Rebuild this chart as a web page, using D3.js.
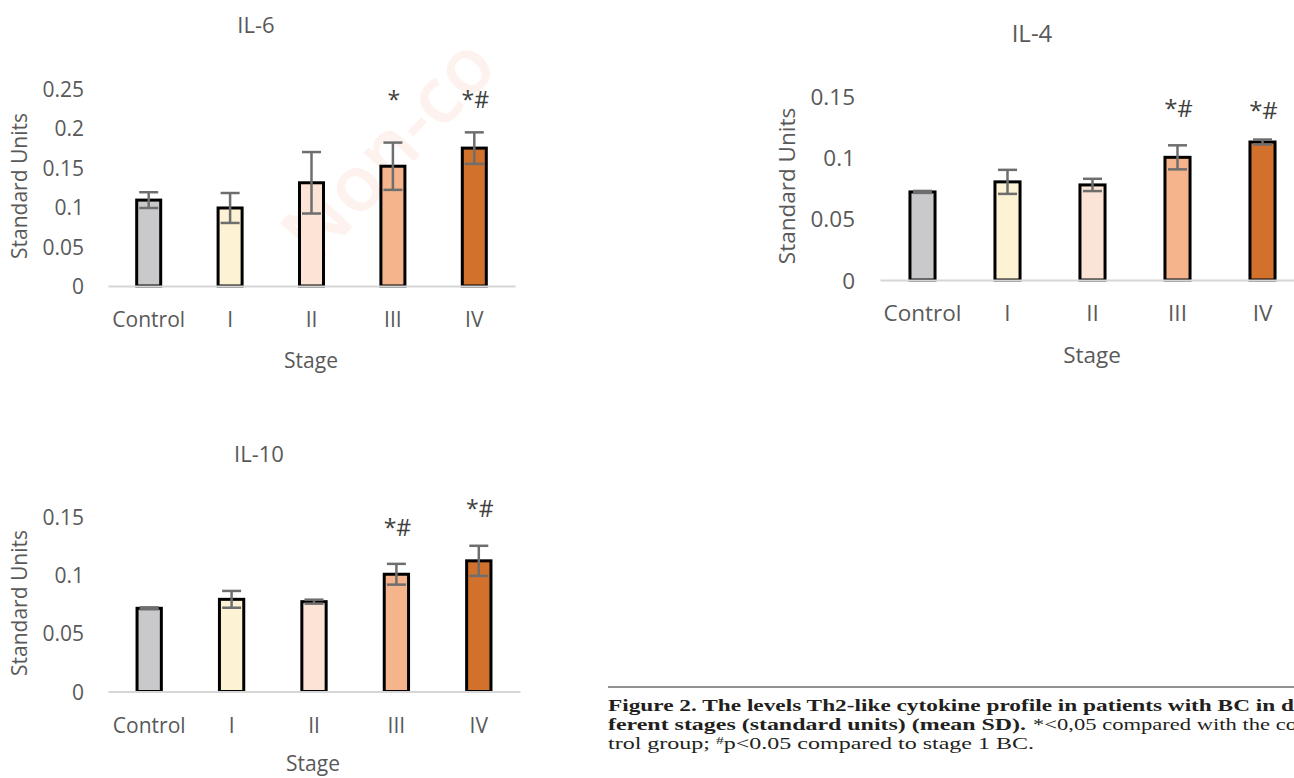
<!DOCTYPE html>
<html><head><meta charset="utf-8">
<script src="https://cdn.jsdelivr.net/npm/d3@7"></script>
<style>body{margin:0;background:#fff;} svg{display:block;}</style>
</head><body><svg id="c" width="1294" height="778"></svg>
<script>
// ---------- data ----------
const categories = ["Control", "I", "II", "III", "IV"];
const barColors = ["#c9c9cb", "#fdf2d3", "#fbe3d6", "#f5b48b", "#d1712b"];

const il6Means  = [0.109, 0.099, 0.131, 0.152, 0.175];
const il6Errors = [0.010, 0.019, 0.039, 0.030, 0.020];
const il6Marks  = ["", "", "", "*", "*#"];
const il6MarkLevels = [null, null, null, 0.226, 0.226];
const il6Ticks = [0, 0.05, 0.1, 0.15, 0.2, 0.25];
const il6TickLabels = ["0", "0.05", "0.1", "0.15", "0.2", "0.25"];

const il4Means  = [0.0718, 0.080, 0.0775, 0.100, 0.1125];
const il4Errors = [0.0008, 0.0098, 0.005, 0.0098, 0.002];
const il4Marks  = ["", "", "", "*#", "*#"];
const il4MarkLevels = [null, null, null, 0.133, 0.131];
const il4Ticks = [0, 0.05, 0.1, 0.15];
const il4TickLabels = ["0", "0.05", "0.1", "0.15"];

const il10Means  = [0.0713, 0.079, 0.077, 0.1005, 0.112];
const il10Errors = [0.0008, 0.0072, 0.0017, 0.0089, 0.0129];
const il10Marks  = ["", "", "", "*#", "*#"];
const il10MarkLevels = [null, null, null, 0.133, 0.1496];
const il10Ticks = [0, 0.05, 0.1, 0.15];
const il10TickLabels = ["0", "0.05", "0.1", "0.15"];

const yTitle = "Standard Units";
const xTitle = "Stage";
const watermarkText = "Non-co";

// ---------- drawing ----------
const svg = d3.select("#c");
const font = "'Open Sans', 'Noto Sans', sans-serif";
const textColor = "#595959";
svg.append("rect").attr("width", 1294).attr("height", 778).attr("fill", "#fff");

// watermark (behind)
svg.append("text")
  .attr("transform", "translate(316,266) rotate(-47)")
  .attr("font-family", font).attr("font-weight", 600).attr("font-size", 78)
  .attr("fill", "#fdf2ee")
  .text(watermarkText);

function drawChart(c) {
  const g = svg.append("g").attr("font-family", font);
  const x = d3.scaleBand().domain(categories).range(c.xRange)
    .paddingInner(0.705).paddingOuter(0.3525);
  const y = d3.scaleLinear().domain(c.yDomain).range(c.yRange);

  // title
  g.append("text").attr("x", c.titlePos[0]).attr("y", c.titlePos[1])
    .attr("text-anchor", "middle").attr("font-size", c.titleSize)
    .attr("fill", textColor).text(c.name);

  // y axis (labels only)
  const ya = g.append("g").attr("transform", `translate(${c.tickX},0)`)
    .call(d3.axisLeft(y).tickValues(c.ticks).tickSize(0).tickPadding(0)
      .tickFormat((d, i) => c.tickLabels[i]));
  ya.attr("font-family", font).attr("font-size", c.fs);
  ya.select(".domain").remove();
  ya.selectAll("text").attr("fill", textColor).attr("dy", "0.36em");

  // bars
  g.selectAll("rect.bar").data(c.means).join("rect").attr("class", "bar")
    .attr("x", (d, i) => x(categories[i]))
    .attr("y", d => y(d))
    .attr("width", x.bandwidth())
    .attr("height", d => y(0) - y(d))
    .attr("fill", (d, i) => barColors[i])
    .attr("stroke", "#000").attr("stroke-width", 3);

  // x axis (line + labels)
  const pad = c.xLabelBase - y(0) - 0.71 * c.fs;
  const xa = g.append("g").attr("transform", `translate(0,${y(0)})`)
    .call(d3.axisBottom(x).tickSize(0).tickSizeOuter(0).tickPadding(pad));
  xa.attr("font-family", font).attr("font-size", c.fs);
  xa.select(".domain").attr("stroke", "#d6d6d6").attr("stroke-width", 2);
  xa.selectAll("text").attr("fill", textColor);

  // error bars
  const cap = 9.5;
  const eb = g.append("g").attr("stroke", "#6e6e6e").attr("stroke-width", 2.5);
  c.means.forEach((m, i) => {
    const cx = x(categories[i]) + x.bandwidth() / 2;
    const e = c.errors[i];
    eb.append("line").attr("x1", cx).attr("x2", cx).attr("y1", y(m + e)).attr("y2", y(m - e));
    eb.append("line").attr("x1", cx - cap).attr("x2", cx + cap).attr("y1", y(m + e)).attr("y2", y(m + e));
    eb.append("line").attr("x1", cx - cap).attr("x2", cx + cap).attr("y1", y(m - e)).attr("y2", y(m - e));
  });

  // significance marks
  c.marks.forEach((t, i) => {
    if (!t) return;
    g.append("text")
      .attr("x", x(categories[i]) + x.bandwidth() / 2 + 1)
      .attr("y", y(c.markLevels[i]))
      .attr("text-anchor", "middle").attr("font-size", c.markSize)
      .attr("fill", "#404040").text(t);
  });

  // axis titles
  g.append("text").attr("x", c.stagePos[0]).attr("y", c.stagePos[1])
    .attr("text-anchor", "middle").attr("font-size", c.fs)
    .attr("fill", textColor).text(xTitle);
  g.append("text").attr("transform", `translate(${c.yTitlePos[0]},${c.yTitlePos[1]}) rotate(-90)`)
    .attr("text-anchor", "middle").attr("font-size", c.fs)
    .attr("fill", textColor).text(yTitle);
}

drawChart({
  name: "IL-6", means: il6Means, errors: il6Errors, marks: il6Marks, markLevels: il6MarkLevels,
  ticks: il6Ticks, tickLabels: il6TickLabels,
  xRange: [108, 515], yDomain: [0, 0.25], yRange: [286, 89],
  tickX: 84, titlePos: [256, 33], titleSize: 22, fs: 21, markSize: 23,
  xLabelBase: 327, stagePos: [311, 368], yTitlePos: [27, 186]
});
drawChart({
  name: "IL-4", means: il4Means, errors: il4Errors, marks: il4Marks, markLevels: il4MarkLevels,
  ticks: il4Ticks, tickLabels: il4TickLabels,
  xRange: [880, 1305], yDomain: [0, 0.15], yRange: [280, 96],
  tickX: 855, titlePos: [1032, 42], titleSize: 24, fs: 22.5, markSize: 24,
  xLabelBase: 321, stagePos: [1092, 363], yTitlePos: [795, 186]
});
drawChart({
  name: "IL-10", means: il10Means, errors: il10Errors, marks: il10Marks, markLevels: il10MarkLevels,
  ticks: il10Ticks, tickLabels: il10TickLabels,
  xRange: [108, 520], yDomain: [0, 0.15], yRange: [691.5, 516.5],
  tickX: 84, titlePos: [259, 462], titleSize: 22, fs: 21, markSize: 23,
  xLabelBase: 732.5, stagePos: [313, 771], yTitlePos: [27, 603]
});

// ---------- caption ----------
const cap = svg.append("g").attr("font-family", "'Liberation Serif', 'DejaVu Serif', serif")
  .attr("font-size", 17).attr("fill", "#231f20");
cap.append("line").attr("x1", 608).attr("x2", 1294).attr("y1", 687).attr("y2", 687)
  .attr("stroke", "#6e6e6e").attr("stroke-width", 1.5);
cap.append("text").attr("x", 608).attr("y", 711).attr("font-weight", "bold")
  .attr("textLength", 686).attr("lengthAdjust", "spacingAndGlyphs")
  .text("Figure 2. The levels Th2-like cytokine profile in patients with BC in d");
cap.append("text").attr("x", 608).attr("y", 729.5).attr("font-weight", "bold")
  .attr("textLength", 418).attr("lengthAdjust", "spacingAndGlyphs")
  .text("ferent stages (standard units) (mean SD).");
cap.append("text").attr("x", 1033).attr("y", 729.5)
  .attr("textLength", 264).attr("lengthAdjust", "spacingAndGlyphs")
  .text("*<0,05 compared with the co");
const l3 = cap.append("text").attr("x", 608).attr("y", 749)
  .attr("textLength", 426).attr("lengthAdjust", "spacingAndGlyphs");
l3.append("tspan").text("trol group; ");
l3.append("tspan").attr("font-size", 11).attr("dy", -5).text("#");
l3.append("tspan").attr("dy", 5).text("p<0.05 compared to stage 1 BC.");
</script>
</body></html>
